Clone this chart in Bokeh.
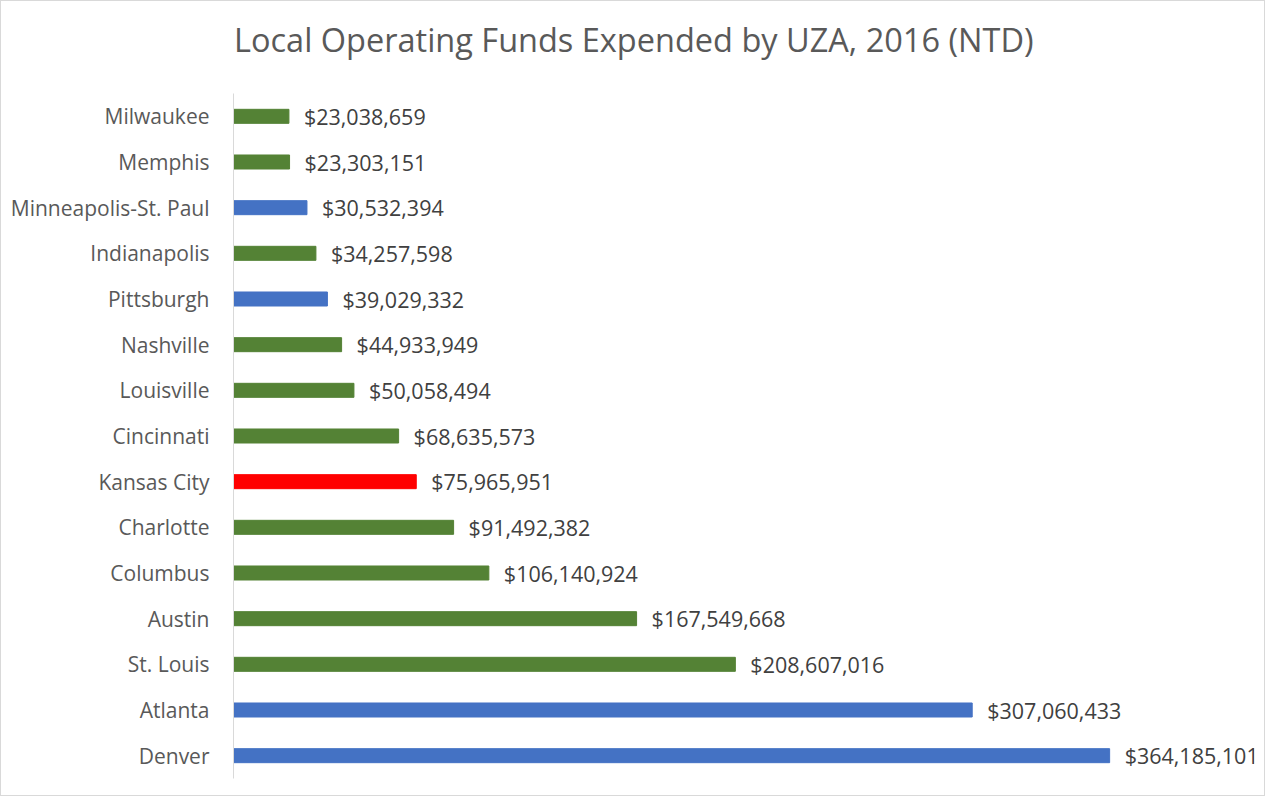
from bokeh.plotting import figure
from bokeh.models import ColumnDataSource, FactorRange, Range1d, Div
from bokeh.layouts import column
from bokeh.core.properties import value
from bokeh.embed import file_html
from bokeh.resources import INLINE

cities = ["Denver", "Atlanta", "St. Louis", "Austin", "Columbus", "Charlotte",
          "Kansas City", "Cincinnati", "Louisville", "Nashville", "Pittsburgh",
          "Indianapolis", "Minneapolis-St. Paul", "Memphis", "Milwaukee"]
funds = [364185101, 307060433, 208607016, 167549668, 106140924, 91492382,
         75965951, 68635573, 50058494, 44933949, 39029332,
         34257598, 30532394, 23303151, 23038659]
groups = ["blue", "blue", "green", "green", "green", "green",
          "red", "green", "green", "green", "blue",
          "green", "blue", "green", "green"]
title_text = "Local Operating Funds Expended by UZA, 2016 (NTD)"

palette = {"green": "#548235", "blue": "#4472C4", "red": "#FF0000"}
colors = [palette[g] for g in groups]
labels = ["${:,}".format(v) for v in funds]

src = ColumnDataSource(dict(city=cities, val=funds, color=colors, label=labels))

W = 1263
TOP = 92
p = figure(width=W, height=794 - TOP, output_backend="svg", toolbar_location=None,
           y_range=FactorRange(factors=cities, range_padding=0),
           x_range=Range1d(0, 424.4e6),
           min_border_left=232, min_border_right=10,
           min_border_top=0, min_border_bottom=17)

p.hbar(y="city", right="val", left=0, height=0.307, color="color", source=src)
p.text(x="val", y="city", text="label", source=src, x_offset=15,
       text_align="left", text_baseline="middle",
       text_font=value("Open Sans"), text_font_size="21.5px", text_color="#404040")

p.xaxis.visible = False
p.xgrid.visible = False
p.ygrid.visible = False
p.outline_line_color = None

ax = p.yaxis[0]
ax.axis_line_color = "#D9D9D9"
ax.axis_line_width = 1
ax.major_tick_line_color = None
ax.minor_tick_line_color = None
ax.major_label_text_font = "Open Sans"
ax.major_label_text_font_size = "21px"
ax.major_label_text_color = "#595959"
ax.major_label_standoff = 18

head = Div(text=('<div style="position:absolute;left:233px;top:16px;margin:0;padding:0;'
                 'font-family:\'Open Sans\';font-size:32.5px;line-height:normal;'
                 'color:#595959;white-space:nowrap">' + title_text + '</div>'),
           width=W, height=TOP, margin=0,
           styles={"position": "relative"})

layout = column(head, p, spacing=0, styles={"border": "1px solid #D9D9D9",
                                            "background-color": "white"})

open("out.html", "w").write(file_html(layout, INLINE))
